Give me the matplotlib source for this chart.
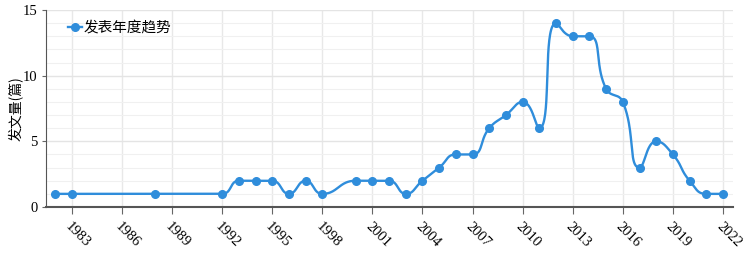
import numpy as np
import matplotlib
matplotlib.use("Agg")
import matplotlib.pyplot as plt

years = [1982, 1983, 1988, 1992, 1993, 1994, 1995, 1996, 1997, 1998, 2000,
         2001, 2002, 2003, 2004, 2005, 2006, 2007, 2008, 2009, 2010, 2011,
         2012, 2013, 2014, 2015, 2016, 2017, 2018, 2019, 2020, 2021, 2022]
counts = [1, 1, 1, 1, 2, 2, 2, 1, 2, 1, 2,
          2, 2, 1, 2, 3, 4, 4, 6, 7, 8, 6,
          14, 13, 13, 9, 8, 3, 5, 4, 2, 1, 1]
xticks = list(range(1983, 2023, 3))
series_name = "发表年度趋势"
ylabel = "发文量(篇)"

COLOR = "#2f8ddb"
W, H = 746, 258
X0, X1 = 1981.45, 2022.6


def clamp(v, a, b):
    return min(max(v, min(a, b)), max(a, b))


def smooth_curve(xs, ys, sx, sy, smooth=0.5, n=40):
    # bezier smoothing in pixel space; control points stay between neighbours
    px = [x * sx for x in xs]
    py = [y * sy for y in ys]
    m = len(px)
    out_x, out_y = [px[0]], [py[0]]
    t = np.linspace(0, 1, n)[1:]
    cpx0, cpy0 = px[0], py[0]
    for i in range(1, m):
        x, y = px[i], py[i]
        prx, pry = px[i - 1], py[i - 1]
        if i == m - 1:
            cpx1, cpy1 = x, y
            ncx, ncy = x, y
        else:
            nx, ny = px[i + 1], py[i + 1]
            vx, vy = nx - prx, ny - pry
            lp = np.hypot(x - prx, y - pry)
            ln = np.hypot(nx - x, ny - y)
            ratio = ln / (ln + lp)
            ncx = clamp(x + vx * smooth * ratio, nx, x)
            ncy = clamp(y + vy * smooth * ratio, ny, y)
            vx, vy = ncx - x, ncy - y
            cpx1 = clamp(x - vx * lp / ln, prx, x)
            cpy1 = clamp(y - vy * lp / ln, pry, y)
            vx, vy = x - cpx1, y - cpy1
            ncx = x + vx * ln / lp
            ncy = y + vy * ln / lp
        bx = (1 - t) ** 3 * prx + 3 * (1 - t) ** 2 * t * cpx0 + 3 * (1 - t) * t ** 2 * cpx1 + t ** 3 * x
        by = (1 - t) ** 3 * pry + 3 * (1 - t) ** 2 * t * cpy0 + 3 * (1 - t) * t ** 2 * cpy1 + t ** 3 * y
        out_x.extend(bx)
        out_y.extend(by)
        cpx0, cpy0 = ncx, ncy
    return np.array(out_x) / sx, np.array(out_y) / sy


fig = plt.figure(figsize=(W / 100, H / 100), dpi=100)
ax = fig.add_axes([46 / W, (H - 207) / H, (733 - 46) / W, 197 / H])

sx = (733 - 46) / (X1 - X0)
sy = 197 / 15
cx, cy = smooth_curve(years, counts, sx, sy)
ax.plot(cx, cy, color=COLOR, lw=1.7, zorder=3)
ax.plot(years, counts, "o", color=COLOR, ms=5.5, zorder=4)
ax.plot([], [], "-o", color=COLOR, lw=1.7, ms=5.5, label=series_name)

ax.set_xlim(X0, X1)
ax.set_ylim(0, 15)
ax.set_xticks(xticks)
ax.set_xticklabels([str(y) for y in xticks], rotation=-45, ha="left",
                   rotation_mode="anchor", fontsize=10.5, family="Liberation Serif")
ax.set_yticks([0, 5, 10, 15])
ax.set_yticklabels(["0", "5", "10", "15"], fontsize=10.5, family="Liberation Serif")
ax.set_yticks(range(0, 16), minor=True)
ax.tick_params(axis="y", which="minor", length=0)
ax.tick_params(axis="y", which="major", length=3, color="#666666", pad=3)
ax.tick_params(axis="x", length=5, color="#666666", pad=4)

ax.grid(axis="x", color="#e8e8e8", lw=1)
ax.grid(axis="y", which="major", color="#e4e4e4", lw=1)
ax.grid(axis="y", which="minor", color="#f0f0f0", lw=0.8)
ax.set_axisbelow(True)

for s in ["top", "right"]:
    ax.spines[s].set_visible(False)
ax.spines["left"].set_color("#555555")
ax.spines["bottom"].set_color("#555555")
ax.spines["bottom"].set_linewidth(1.5)

ax.set_ylabel(ylabel, fontsize=10, family=["Noto Sans CJK SC", "DejaVu Sans"])
ax.yaxis.set_label_coords(-22 / 687, 0.5)
ax.legend(loc="upper left", bbox_to_anchor=(0.0233, 0.975), frameon=False,
          handlelength=1.0, handletextpad=0.05, borderaxespad=0,
          prop={"family": "Noto Sans CJK SC", "size": 10.5})

fig.savefig("out.png", dpi=100)
